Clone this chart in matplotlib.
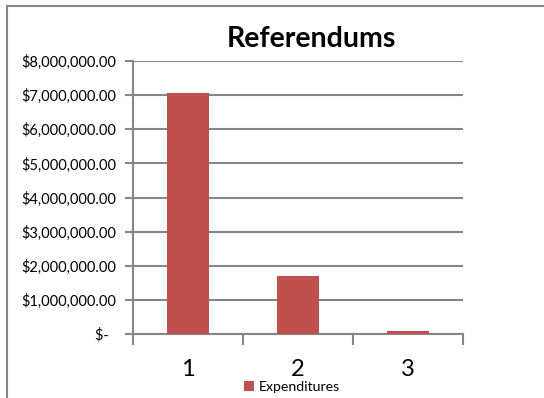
import matplotlib.pyplot as plt
from matplotlib.patches import Rectangle
from matplotlib.ticker import FuncFormatter, MultipleLocator

plt.rcParams['font.family'] = ['Lato', 'DejaVu Sans']

categories = ['1', '2', '3']
expenditures = [7070000, 1700000, 75000]
title = 'Referendums'
series_name = 'Expenditures'

bar_color = '#C0504D'
line_gray = '#868686'


def money(v, pos):
    if v == 0:
        return '$-  '
    return '${:,.2f}'.format(v)


fig = plt.figure(figsize=(5.44, 3.98), dpi=100)

# outer chart frame, clipped on the right and bottom
frame = Rectangle((7 / 544, -0.1), 1.2, 1 - 6 / 398 + 0.1, transform=fig.transFigure,
                  fill=False, edgecolor=line_gray, linewidth=1.5)
fig.patches.append(frame)

ax = fig.add_axes([133 / 544, 1 - 334 / 398, 330 / 544, 273 / 398])
x = range(len(categories))
bars = ax.bar(x, expenditures, width=0.39, color=bar_color, zorder=3,
              label=series_name)

ax.set_xlim(-0.5, len(categories) - 0.5)
ax.set_ylim(0, 8000000)
ax.yaxis.set_major_locator(MultipleLocator(1000000))
ax.yaxis.set_major_formatter(FuncFormatter(money))
ax.grid(axis='y', color=line_gray, linewidth=1.5, zorder=0)

# category boundaries carry the tick marks, centres carry the labels
ax.set_xticks([i - 0.5 for i in range(len(categories) + 1)])
ax.set_xticklabels([])
ax.set_xticks(list(x), minor=True)
ax.set_xticklabels(categories, minor=True, fontsize=17)
ax.tick_params(axis='x', which='major', length=8, width=1.5, color=line_gray)
ax.tick_params(axis='x', which='minor', length=0, pad=18)
ax.tick_params(axis='y', length=6, width=1.5, color=line_gray, labelsize=10.5, pad=6)

for side in ['top', 'right']:
    ax.spines[side].set_visible(False)
for side in ['left', 'bottom']:
    ax.spines[side].set_color(line_gray)
    ax.spines[side].set_linewidth(1.5)

ax.set_title(title, fontsize=20.5, fontweight='bold', y=1.0, pad=10, x=0.54)

ax.legend(loc='center', bbox_to_anchor=(292 / 544, 1 - 387 / 398),
          bbox_transform=fig.transFigure, frameon=False, fontsize=10.2,
          handlelength=0.7, handleheight=0.7, handletextpad=0.3,
          borderpad=0, borderaxespad=0)

fig.savefig('out.png', dpi=100)
